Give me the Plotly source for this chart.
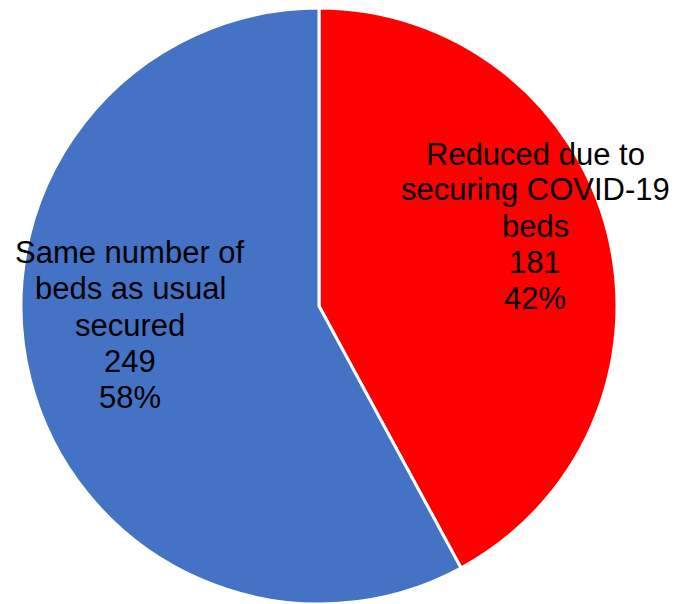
import plotly.graph_objects as go

# Bed availability categories and counts
categories = ["Reduced due to securing COVID-19 beds", "Same number of beds as usual secured"]
label_lines = [["Reduced due to", "securing COVID-19", "beds"],
               ["Same number of", "beds as usual", "secured"]]
counts = [181, 249]
colors = ["#FF0000", "#4472C4"]

W, H = 677, 604
total = sum(counts)

fig = go.Figure(go.Pie(
    labels=categories,
    values=counts,
    sort=False,
    direction="clockwise",
    rotation=0,
    textinfo="none",
    hoverinfo="label+value+percent",
    marker=dict(colors=colors, line=dict(color="#FFFFFF", width=3)),
    domain=dict(x=[21 / W, 617 / W], y=[0, 596 / H]),
    showlegend=False,
))

# Slice labels: name, count and share, one line per annotation
label_pos = [(535, 226), (130, 325)]
line_gap = 36
for lines, n, (px, py) in zip(label_lines, counts, label_pos):
    pct = round(100 * n / total)
    rows = lines + [str(n), f"{pct}%"]
    start = py - line_gap * (len(rows) - 1) / 2
    for i, row in enumerate(rows):
        fig.add_annotation(
            x=px / W, y=1 - (start + i * line_gap) / H, xref="paper", yref="paper",
            text=row, showarrow=False, align="center",
            xanchor="center", yanchor="middle",
            font=dict(family="Liberation Sans, Arial, sans-serif", size=31, color="#000000"),
        )

fig.update_layout(
    width=W, height=H,
    margin=dict(l=0, r=0, t=0, b=0),
    paper_bgcolor="#FFFFFF",
    plot_bgcolor="#FFFFFF",
)

fig.write_html("out.html")
